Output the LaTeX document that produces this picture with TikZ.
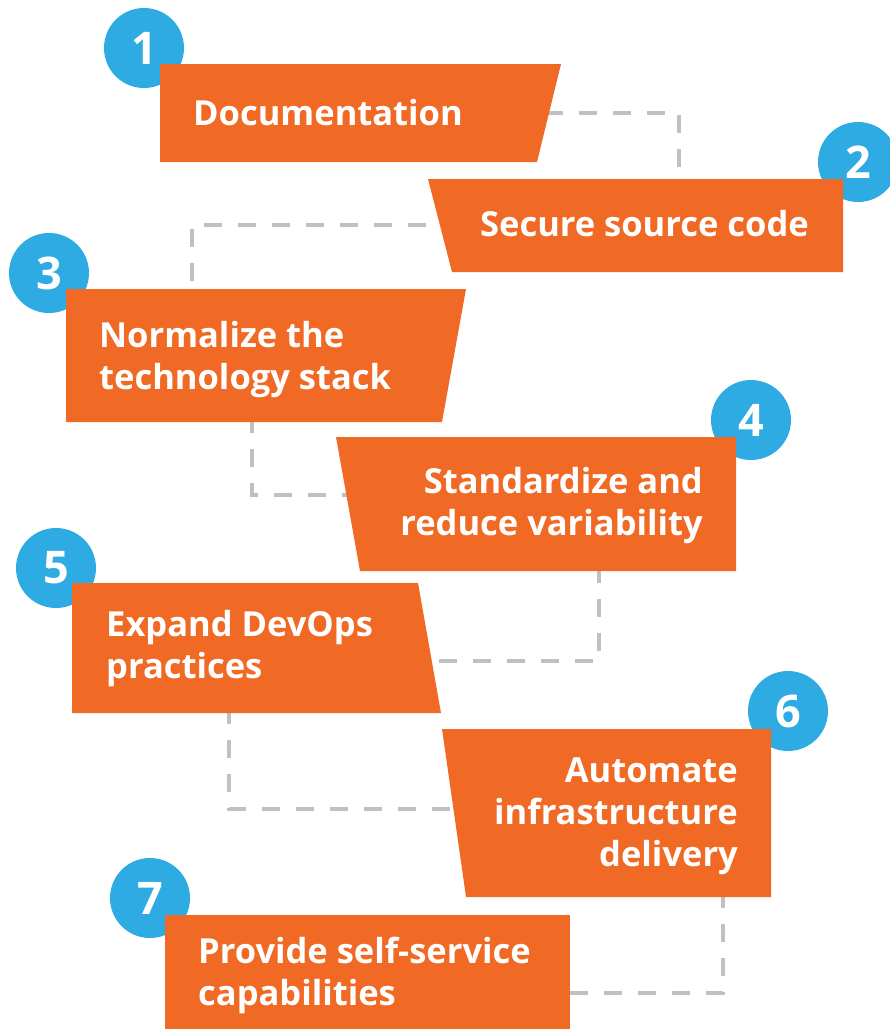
\documentclass[tikz,border=0pt]{standalone}
\usepackage{fontspec}
\setmainfont{Open Sans}
\definecolor{boxorange}{RGB}{240,106,37}
\definecolor{numblue}{RGB}{46,171,226}
\definecolor{conngray}{RGB}{192,192,194}
\tikzset{
  conn/.style={draw=conngray, line width=4.7pt, dash pattern=on 18pt off 16pt},
  stepfill/.style={fill=boxorange, draw=none},
  numdisc/.style={circle, fill=numblue, minimum size=80pt, inner sep=0pt, text=white,
                  font=\fontsize{45}{50}\selectfont\bfseries},
  lbl/.style={text=white, inner sep=0pt, font=\fontsize{34.5}{42}\selectfont\bfseries},
  lblL/.style={lbl, align=left, anchor=base west},
  lblR/.style={lbl, align=right, anchor=base east},
}
\begin{document}
\begin{tikzpicture}[x=1pt,y=-1pt]
\useasboundingbox (0,0) rectangle (890,1029);
% connector end points (hidden under the boxes)
\coordinate (c12s) at (545,113);  \coordinate (c12e) at (679,186);
\coordinate (c23s) at (460,225);  \coordinate (c23e) at (192,296);
\coordinate (c34s) at (252,415);  \coordinate (c34e) at (352,495);
\coordinate (c45s) at (599,565);  \coordinate (c45e) at (424,661);
\coordinate (c56s) at (229,706);  \coordinate (c56e) at (462,809);
\coordinate (c67s) at (723,890);  \coordinate (c67e) at (565,993);
\draw[conn] (c12s) -| (c12e);
\draw[conn] (c23s) -| (c23e);
\draw[conn] (c34s) |- (c34e);
\draw[conn] (c45s) |- (c45e);
\draw[conn] (c56s) |- (c56e);
\draw[conn] (c67s) |- (c67e);
% number discs
\node[numdisc] (n1) at (144,48)  {};
\node[numdisc] (n2) at (858,162) {};
\node[numdisc] (n3) at (49,273)  {};
\node[numdisc] (n4) at (751,420) {};
\node[numdisc] (n5) at (56,568)  {};
\node[numdisc] (n6) at (788,711) {};
\node[numdisc] (n7) at (150,898) {};
% boxes
\fill[stepfill] (160,64) coordinate (b1nw) -- (561,64) coordinate (b1ne) -- (537,162) coordinate (b1se) -- (160,162) coordinate (b1sw) -- cycle;
\fill[stepfill] (428,179) coordinate (b2nw) -- (843,179) coordinate (b2ne) -- (843,272) coordinate (b2se) -- (452,272) coordinate (b2sw) -- cycle;
\fill[stepfill] (66,289) coordinate (b3nw) -- (466,289) coordinate (b3ne) -- (442,422) coordinate (b3se) -- (66,422) coordinate (b3sw) -- cycle;
\fill[stepfill] (336,437) coordinate (b4nw) -- (736,437) coordinate (b4ne) -- (736,571) coordinate (b4se) -- (360,571) coordinate (b4sw) -- cycle;
\fill[stepfill] (72,583) coordinate (b5nw) -- (418,583) coordinate (b5ne) -- (441,713) coordinate (b5se) -- (72,713) coordinate (b5sw) -- cycle;
\fill[stepfill] (442,729) coordinate (b6nw) -- (771,729) coordinate (b6ne) -- (771,897) coordinate (b6se) -- (466,897) coordinate (b6sw) -- cycle;
\fill[stepfill] (165,915) coordinate (b7nw) -- (570,915) coordinate (b7ne) -- (570,1029) coordinate (b7se) -- (165,1029) coordinate (b7sw) -- cycle;
% digits
\node[numdisc, fill=none] (d1) at (n1) {1};
\node[numdisc, fill=none] (d2) at (n2) {2};
\node[numdisc, fill=none] (d3) at (n3) {3};
\node[numdisc, fill=none] (d4) at (n4) {4};
\node[numdisc, fill=none] (d5) at (n5) {5};
\node[numdisc, fill=none] (d6) at (n6) {6};
\node[numdisc, fill=none] (d7) at (n7) {7};
% labels (anchored at the baseline of the last line)
\node[lblL] (t1) at (193,125) {Documentation};
\node[lblR] (t2) at (809,236) {Secure source code};
\node[lblL] (t3) at (99,389)  {Normalize the\\technology stack};
\node[lblR] (t4) at (703,535) {Standardize and\\reduce variability};
\node[lblL] (t5) at (106,678) {Expand DevOps\\practices};
\node[lblR] (t6) at (738,866) {Automate\\infrastructure\\delivery};
\node[lblL] (t7) at (198,1005) {Provide self-service\\capabilities};
\end{tikzpicture}
\end{document}
